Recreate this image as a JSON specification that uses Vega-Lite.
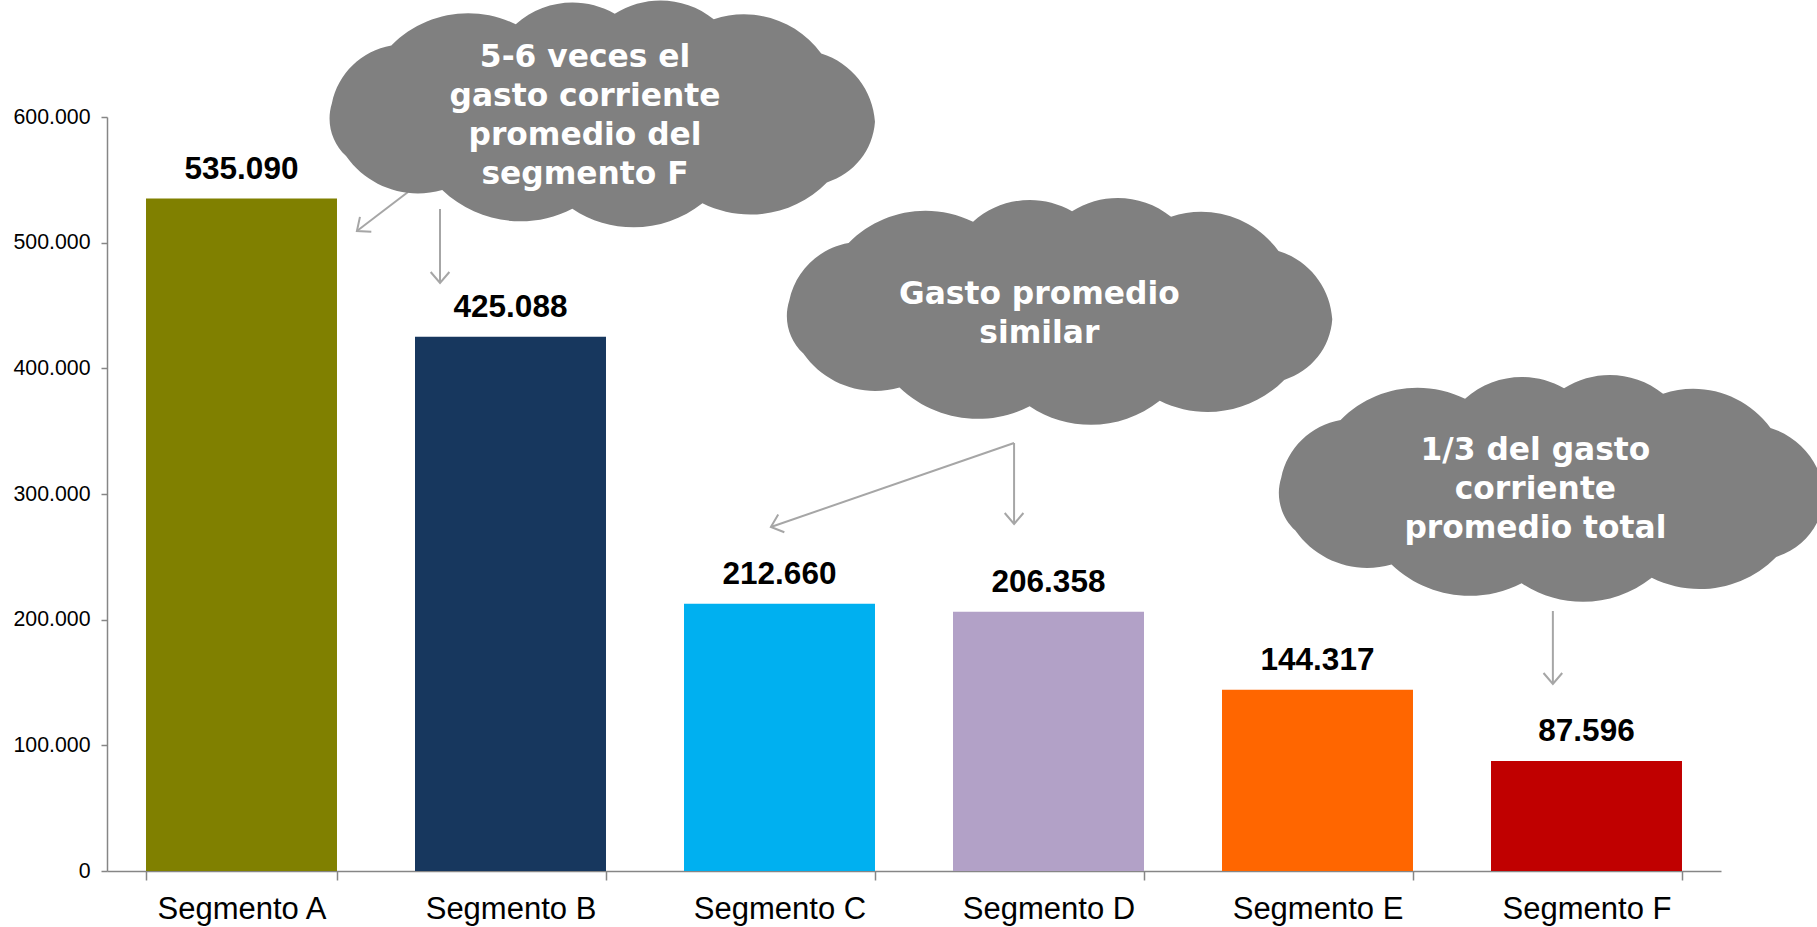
{
  "$schema": "https://vega.github.io/schema/vega-lite/v6.json",
  "width": 1614,
  "height": 754,
  "autosize": {"type": "none"},
  "padding": {"left": 107, "top": 117, "right": 96, "bottom": 56},
  "config": {
    "view": {"stroke": null},
    "font": "Liberation Sans",
    "locale": {"number": {"decimal": ",", "thousands": ".", "grouping": [3], "currency": ["$", ""]}}
  },
  "datasets": {
    "segments": [
      {"segment": "Segmento A", "value": 535090},
      {"segment": "Segmento B", "value": 425088},
      {"segment": "Segmento C", "value": 212660},
      {"segment": "Segmento D", "value": 206358},
      {"segment": "Segmento E", "value": 144317},
      {"segment": "Segmento F", "value": 87596}
    ],
    "clouds": [
      {"cx": 1.835, "cy": 600400, "tx": 1.777, "ty": 646950, "note": "5-6 veces el\ngasto corriente\npromedio del\nsegmento F"},
      {"cx": 3.535, "cy": 443240, "tx": 3.466, "ty": 458600, "note": "Gasto promedio\nsimilar"},
      {"cx": 5.364, "cy": 302390, "tx": 5.31, "ty": 334430, "note": "1/3 del gasto\ncorriente\npromedio total"}
    ],
    "arrows": [
      {"x": 1.119, "y": 540320, "x2": 0.929, "y2": 509290, "angle": 142.6},
      {"x": 1.238, "y": 526790, "x2": 1.238, "y2": 467910, "angle": 90},
      {"x": 3.372, "y": 340590, "x2": 2.468, "y2": 273740, "angle": 160.9},
      {"x": 3.372, "y": 340590, "x2": 3.372, "y2": 276130, "angle": 90},
      {"x": 5.375, "y": 206900, "x2": 5.375, "y2": 148810, "angle": 90}
    ]
  },
  "layer": [
    {
      "data": {"name": "segments"},
      "encoding": {
        "x": {
          "field": "segment", "type": "nominal", "sort": null,
          "scale": {"paddingInner": 0.29, "paddingOuter": 0.145},
          "axis": {
            "title": null, "labelAngle": 0, "labelFontSize": 31, "labelColor": "#000000",
            "domainColor": "#868686", "domainWidth": 1.5, "tickColor": "#868686", "tickWidth": 1.5,
            "tickSize": 9, "tickBand": "extent", "labelPadding": 14
          }
        },
        "y": {
          "field": "value", "type": "quantitative",
          "scale": {"domain": [0, 600000], "nice": false},
          "axis": {
            "title": null, "grid": false, "format": ",.0f",
            "values": [0, 100000, 200000, 300000, 400000, 500000, 600000],
            "labelFontSize": 21.3, "labelColor": "#000000", "labelPadding": 11,
            "domainColor": "#868686", "domainWidth": 1.5, "tickColor": "#868686", "tickWidth": 1.5, "tickSize": 6
          }
        }
      },
      "layer": [
        {
          "mark": {"type": "bar"},
          "encoding": {
            "color": {
              "field": "segment", "type": "nominal", "sort": null, "legend": null,
              "scale": {"range": ["#808000", "#17375E", "#00B0F0", "#B2A1C7", "#FF6600", "#C00000"]}
            }
          }
        },
        {
          "mark": {"type": "text", "fontSize": 31.5, "fontWeight": "bold", "color": "#000000", "align": "center", "baseline": "alphabetic", "dy": -20},
          "encoding": {"text": {"field": "value", "type": "quantitative", "format": ",.0f"}}
        }
      ]
    },
    {
      "layer": [
        {
          "data": {"name": "arrows"},
          "mark": {"type": "rule", "color": "#A6A6A6", "strokeWidth": 2},
          "encoding": {
            "x": {"field": "x", "type": "quantitative", "scale": {"domain": [0, 6], "nice": false, "zero": false}, "axis": null},
            "y": {"field": "y", "type": "quantitative", "scale": {"domain": [0, 600000], "nice": false}, "axis": null},
            "x2": {"field": "x2"},
            "y2": {"field": "y2"}
          }
        },
        {
          "data": {"name": "arrows"},
          "mark": {"type": "point", "shape": "M -1 -0.85 L 0 0 L -1 0.85", "filled": false, "size": 484, "stroke": "#A6A6A6", "strokeWidth": 2, "opacity": 1},
          "encoding": {
            "x": {"field": "x2", "type": "quantitative", "scale": {"domain": [0, 6], "nice": false, "zero": false}, "axis": null},
            "y": {"field": "y2", "type": "quantitative", "scale": {"domain": [0, 600000], "nice": false}, "axis": null},
            "angle": {"field": "angle", "type": "quantitative", "scale": null}
          }
        },
        {
          "data": {"name": "clouds"},
          "mark": {
            "type": "point",
            "shape": "M -0.95 -0.047 A 0.26 0.26 0 0 1 -0.74 -0.251 A 0.38 0.38 0 0 1 -0.30 -0.326 A 0.30 0.30 0 0 1 0.05 -0.363 A 0.30 0.30 0 0 1 0.40 -0.344 A 0.34 0.34 0 0 1 0.78 -0.223 A 0.27 0.27 0 0 1 0.97 0.019 A 0.24 0.24 0 0 1 0.80 0.233 A 0.38 0.38 0 0 1 0.36 0.307 A 0.39 0.39 0 0 1 -0.10 0.326 A 0.40 0.40 0 0 1 -0.56 0.260 A 0.31 0.31 0 0 1 -0.90 0.140 A 0.18 0.18 0 0 1 -0.95 -0.047 Z",
            "filled": true, "size": 320000, "color": "#808080", "opacity": 1, "strokeWidth": 0
          },
          "encoding": {
            "x": {"field": "cx", "type": "quantitative", "scale": {"domain": [0, 6], "nice": false, "zero": false}, "axis": null},
            "y": {"field": "cy", "type": "quantitative", "scale": {"domain": [0, 600000], "nice": false}, "axis": null}
          }
        },
        {
          "data": {"name": "clouds"},
          "mark": {"type": "text", "font": "DejaVu Sans", "fontWeight": "bold", "fontSize": 31.3, "color": "#FFFFFF", "align": "center", "baseline": "middle", "lineBreak": "\n", "lineHeight": 39},
          "encoding": {
            "x": {"field": "tx", "type": "quantitative", "scale": {"domain": [0, 6], "nice": false, "zero": false}, "axis": null},
            "y": {"field": "ty", "type": "quantitative", "scale": {"domain": [0, 600000], "nice": false}, "axis": null},
            "text": {"field": "note", "type": "nominal"}
          }
        }
      ]
    }
  ],
  "resolve": {"scale": {"x": "independent", "y": "independent"}}
}
